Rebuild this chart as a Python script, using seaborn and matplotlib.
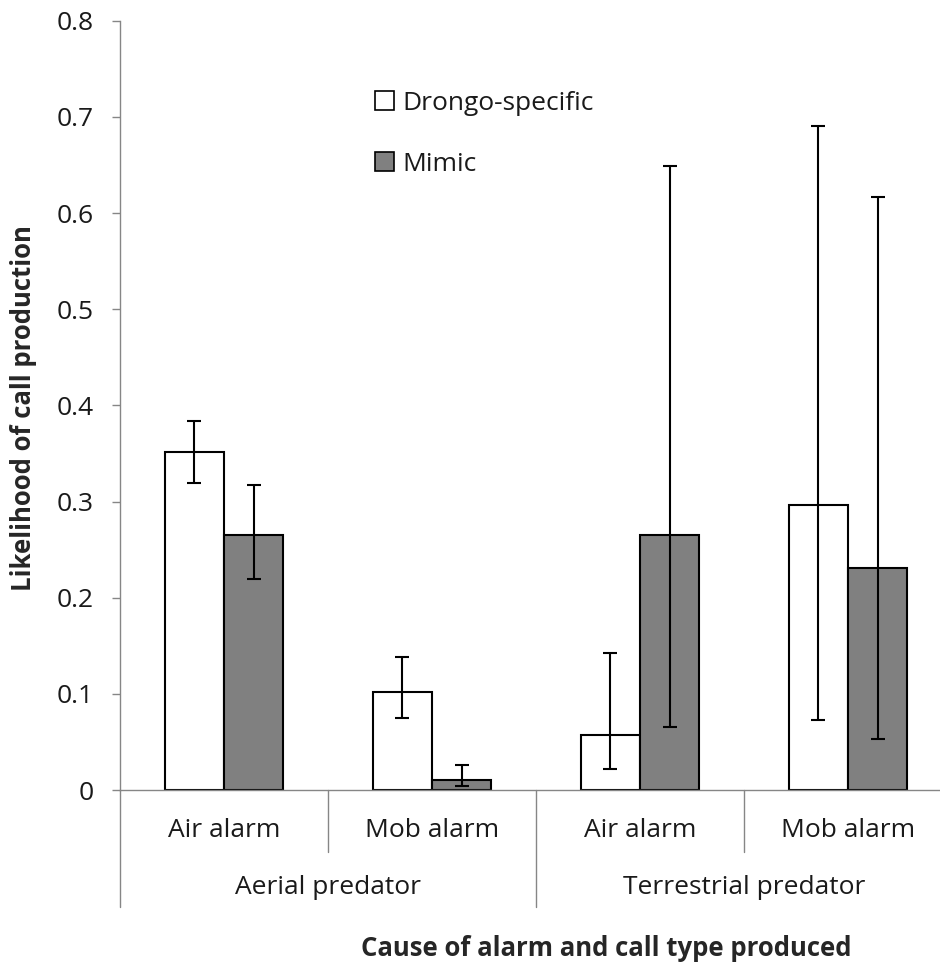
import matplotlib
matplotlib.use("Agg")
import matplotlib.pyplot as plt
import seaborn as sns
import pandas as pd
from matplotlib.patches import Patch
from matplotlib.transforms import blended_transform_factory

# ---- data ----
categories = ["Air alarm", "Mob alarm", "Air alarm ", "Mob alarm "]
group_labels = ["Aerial predator", "Terrestrial predator"]
series = ["Drongo-specific", "Mimic"]
drongo_vals = [0.351, 0.102, 0.057, 0.296]
drongo_low = [0.319, 0.075, 0.022, 0.073]
drongo_high = [0.384, 0.138, 0.142, 0.690]
mimic_vals = [0.265, 0.010, 0.265, 0.231]
mimic_low = [0.219, 0.004, 0.065, 0.053]
mimic_high = [0.317, 0.026, 0.649, 0.617]
yticks = [0, 0.1, 0.2, 0.3, 0.4, 0.5, 0.6, 0.7, 0.8]
ytick_labels = ["0", "0.1", "0.2", "0.3", "0.4", "0.5", "0.6", "0.7", "0.8"]

df = pd.DataFrame({
    "cat": categories * 2,
    "series": [series[0]] * 4 + [series[1]] * 4,
    "val": drongo_vals + mimic_vals,
    "low": drongo_low + mimic_low,
    "high": drongo_high + mimic_high,
})

sns.set_theme(style="white")
plt.rcParams["font.family"] = ["Open Sans", "DejaVu Sans"]

fig = plt.figure(figsize=(9.4, 9.72), dpi=100)
ax = fig.add_axes([120 / 940, 1 - 790 / 972, 832 / 940, 769.3 / 972])

palette = {series[0]: "#ffffff", series[1]: "#808080"}
sns.barplot(data=df, x="cat", y="val", hue="series", order=categories,
            hue_order=series, palette=palette, width=0.57, dodge=True,
            edgecolor="black", linewidth=1.5, errorbar=None, legend=False, ax=ax)

# error bars at bar centres
for s_i, s in enumerate(series):
    sub = df[df["series"] == s].reset_index(drop=True)
    for c_i in range(len(categories)):
        p = ax.containers[s_i][c_i]
        xc = p.get_x() + p.get_width() / 2
        v = sub.loc[c_i, "val"]
        ax.errorbar([xc], [v], yerr=[[v - sub.loc[c_i, "low"]], [sub.loc[c_i, "high"] - v]],
                    fmt="none", ecolor="black", elinewidth=1.5, capsize=5, capthick=1.5)

ax.set_xlim(-0.5, 3.5)
ax.set_ylim(0, 0.8)
ax.set_yticks(yticks)
ax.set_yticklabels(ytick_labels)
ax.tick_params(axis="y", which="major", left=True, length=6, width=1, color="#868686",
               labelsize=19, pad=13, direction="out", labelcolor="#1a1a1a")
ax.tick_params(axis="x", bottom=False, labelbottom=False)
for sp in ["top", "right"]:
    ax.spines[sp].set_visible(False)
for sp in ["left", "bottom"]:
    ax.spines[sp].set_color("#868686")
    ax.spines[sp].set_linewidth(1)
ax.set_xlabel("")
ax.set_ylabel("Likelihood of call production", fontsize=18.5, fontweight="bold")
ax.yaxis.label.set_verticalalignment("center")
ax.yaxis.set_label_coords((24 - 120) / 832, (790 - 408) / 769.3)

# category axis separators and labels
tr = blended_transform_factory(ax.transData, ax.transAxes)
ax_h_px = 769.3
def yax(px_below):
    return -px_below / ax_h_px

for xb in [0.5, 2.5]:
    ax.plot([xb, xb], [0, yax(62)], transform=tr, color="#868686", lw=1, clip_on=False)
for xb in [-0.5, 1.5]:
    ax.plot([xb, xb], [0, yax(117)], transform=tr, color="#868686", lw=1, clip_on=False)

for i, c in enumerate(categories):
    ax.text(i, yax(40), c.strip(), transform=tr, ha="center", va="center",
            fontsize=19, color="#1a1a1a")
for g_i, g in enumerate(group_labels):
    ax.text(0.5 + 2 * g_i, yax(97), g, transform=tr, ha="center", va="center",
            fontsize=19, color="#1a1a1a")

fig.text(606 / 940, 1 - 948 / 972, "Cause of alarm and call type produced",
         ha="center", va="center", fontsize=18.5, fontweight="bold")

handles = [Patch(facecolor=palette[s], edgecolor="black", linewidth=1.2, label=s) for s in series]
leg = fig.legend(handles=handles, loc="upper left", bbox_to_anchor=(375 / 940, 1 - 91 / 972),
                 frameon=False, fontsize=19, handlelength=0.72, handleheight=0.72,
                 handletextpad=0.3, labelspacing=1.35, borderaxespad=0, borderpad=0)
for t in leg.get_texts():
    t.set_color("#1a1a1a")

fig.savefig("out.png", dpi=100)
